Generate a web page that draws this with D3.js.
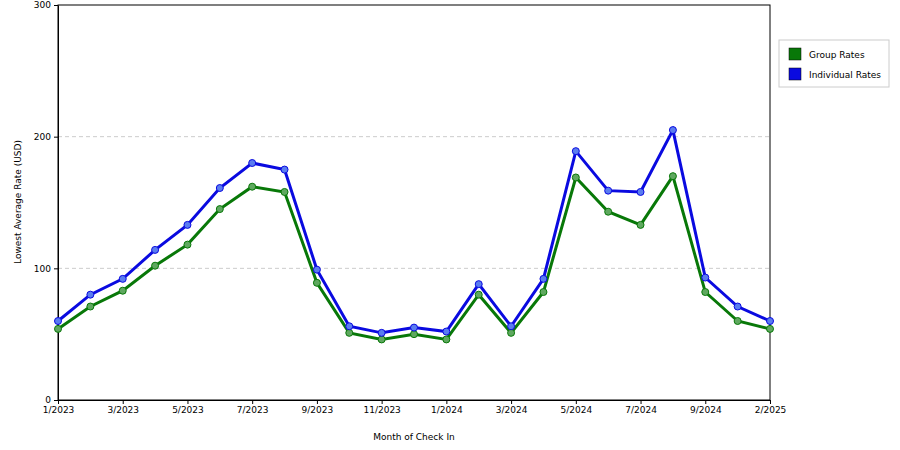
<!DOCTYPE html>
<html><head><meta charset="utf-8">
<script src="https://cdn.jsdelivr.net/npm/d3@7"></script>
<style>body{margin:0;background:#fff}text{font-family:"DejaVu Sans",sans-serif;font-size:9px}</style>
</head><body><div id="chart"></div>
<script>
// months 1/2023 .. 11/2024
const months = d3.range(23);
const groupRates = [54,71,83,102,118,145,162,158,89,51,46,50,46,80,51,82,169,143,133,170,82,60,54];
const individualRates = [60,80,92,114,133,161,180,175,99,56,51,55,52,88,56,92,189,159,158,205,93,71,60];
const tickIdx = [0,2,4,6,8,10,12,14,16,18,20,22];
const tickLabels = ["1/2023","3/2023","5/2023","7/2023","9/2023","11/2023","1/2024","3/2024","5/2024","7/2024","9/2024","2/2025"];

const svg = d3.select("#chart").append("svg").attr("width", 900).attr("height", 450);
const x = d3.scaleLinear().domain([0, 22]).range([58, 770]);
const y = d3.scaleLinear().domain([0, 300]).range([400, 5]);

// frame
svg.append("rect").attr("x", 58).attr("y", 5).attr("width", 712).attr("height", 395)
   .attr("fill", "none").attr("stroke", "#000");

// dashed grid
svg.selectAll(".grid").data([100, 200]).enter().append("line")
   .attr("x1", 58).attr("x2", 770).attr("y1", d => y(d)).attr("y2", d => y(d))
   .attr("stroke", "#ccc").attr("stroke-dasharray", "4,3");

svg.append("g").attr("transform", "translate(0,400)")
   .call(d3.axisBottom(x).tickValues(tickIdx).tickFormat((d, i) => tickLabels[i]).tickSize(4).tickSizeOuter(0))
   .call(g => g.selectAll("text").attr("font-size", 9).attr("fill", "#000"));
svg.append("g").attr("transform", "translate(58,0)")
   .call(d3.axisLeft(y).tickValues([0, 100, 200, 300]).tickSize(4).tickSizeOuter(0))
   .call(g => g.selectAll("text").attr("font-size", 9).attr("fill", "#000"));

svg.append("text").attr("x", 414).attr("y", 440).attr("text-anchor", "middle").text("Month of Check In");
svg.append("text").attr("transform", "translate(21,202) rotate(-90)").attr("text-anchor", "middle")
   .text("Lowest Average Rate (USD)");

const series = [
  { name: "Group Rates", vals: groupRates, color: "#087808", fill: "#5fa85f" },
  { name: "Individual Rates", vals: individualRates, color: "#0a0ae0", fill: "#5a7cf0" }
];
const line = d3.line().x((d, i) => x(months[i])).y(d => y(d));
series.forEach(s => {
  svg.append("path").datum(s.vals).attr("d", line).attr("fill", "none")
     .attr("stroke", s.color).attr("stroke-width", 3);
  svg.append("g").selectAll("circle").data(s.vals).enter().append("circle")
     .attr("cx", (d, i) => x(months[i])).attr("cy", d => y(d)).attr("r", 3.5)
     .attr("fill", s.fill).attr("stroke", s.color).attr("stroke-width", 1);
});

// legend
const lg = svg.append("g").attr("transform", "translate(779,40)");
lg.append("rect").attr("width", 110).attr("height", 47).attr("fill", "#fff").attr("stroke", "#ccc");
series.forEach((s, i) => {
  lg.append("rect").attr("x", 10).attr("y", 8 + i * 20).attr("width", 12).attr("height", 12)
    .attr("fill", s.color).attr("stroke", "#000").attr("stroke-width", 0.5);
  lg.append("text").attr("x", 30).attr("y", 18 + i * 20).text(s.name);
});
</script></body></html>
